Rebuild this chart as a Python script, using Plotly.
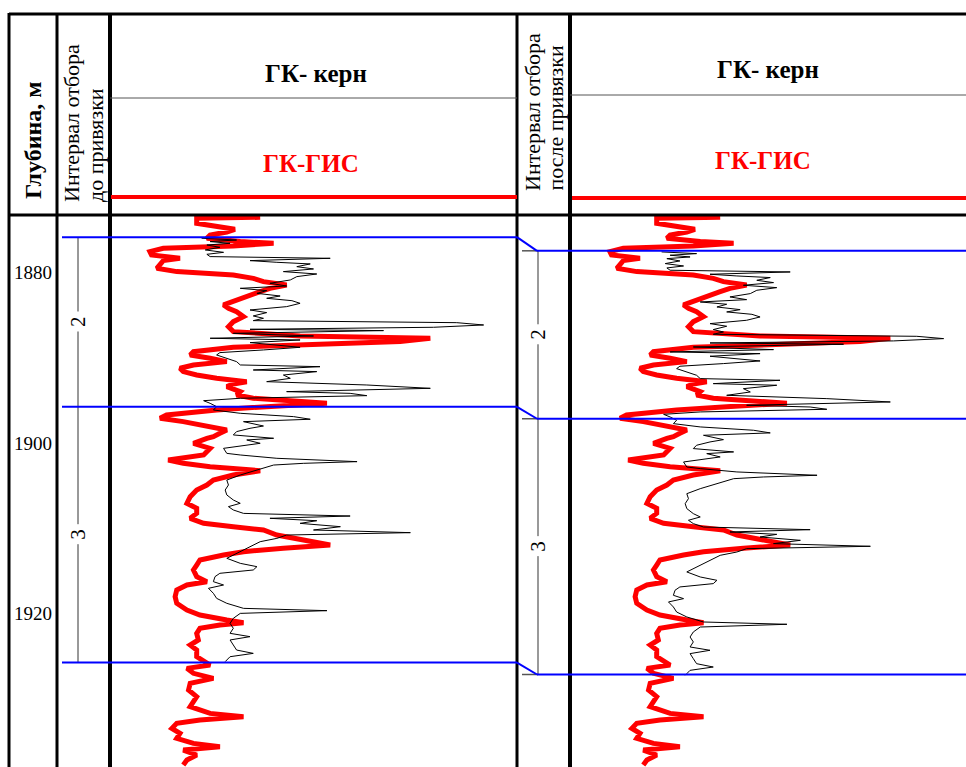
import plotly.graph_objects as go

W, H = 966, 767

# ---------------- data ----------------
depth_ticks = [1880, 1900, 1920]
tick_labels = ["1880", "1900", "1920"]

# ГК-ГИС (well log), depth in m, value in relative units (0..100 over track width)
gis_depth = [
    1873.47, 1873.59, 1874.17, 1874.57, 1874.88, 1875.19, 1875.54, 1875.93, 1876.32, 1876.52,
    1876.83, 1877.11, 1877.50, 1877.89, 1878.28, 1878.55, 1878.94, 1879.45, 1879.84, 1880.23,
    1880.63, 1881.02, 1881.41, 1881.80, 1882.19, 1882.78, 1883.17, 1883.75, 1884.14, 1884.54,
    1885.12, 1885.71, 1886.30, 1886.88, 1887.39, 1887.66, 1888.05, 1888.45, 1888.72, 1889.23,
    1889.62, 1890.01, 1890.40, 1890.79, 1891.18, 1891.57, 1891.97, 1892.36, 1892.75, 1893.02,
    1893.33, 1893.92, 1894.31, 1894.70, 1895.09, 1895.29, 1895.68, 1896.07, 1896.66, 1897.05,
    1897.44, 1898.03, 1898.42, 1898.81, 1899.20, 1899.40, 1899.98, 1900.57, 1901.35, 1901.94,
    1902.33, 1902.72, 1903.19, 1903.70, 1904.29, 1904.87, 1905.46, 1906.24, 1907.02, 1907.61,
    1908.20, 1908.78, 1909.37, 1909.76, 1910.15, 1910.74, 1911.32, 1911.91, 1912.30, 1912.69,
    1913.08, 1913.67, 1914.26, 1914.84, 1915.62, 1916.21, 1916.60, 1917.19, 1917.97, 1918.75,
    1919.53, 1920.12, 1920.71, 1921.02, 1921.29, 1921.68, 1922.27, 1923.05, 1923.64, 1924.23,
    1925.01, 1925.59, 1925.99, 1926.38, 1926.96, 1927.55, 1928.13, 1928.92, 1929.70, 1930.29,
    1930.87, 1931.66, 1932.05, 1932.44, 1932.83, 1933.42, 1934.00, 1934.59, 1935.18, 1935.57,
    1935.96, 1936.54, 1937.13, 1937.72,
]
gis_value = [
    36.9, 21.3, 21.3, 27.0, 30.7, 28.7, 24.6, 23.8, 32.0, 40.2,
    30.3, 13.1, 9.8, 10.2, 17.2, 13.1, 12.3, 11.5, 16.4, 30.3,
    35.2, 37.7, 43.4, 39.3, 36.9, 33.6, 32.0, 27.9, 29.1, 31.1,
    32.8, 30.3, 29.1, 30.3, 46.7, 78.7, 71.3, 48.4, 30.3, 20.5,
    19.7, 24.6, 28.7, 20.5, 17.2, 18.0, 21.3, 26.2, 33.6, 30.3,
    28.7, 32.0, 31.1, 35.2, 50.0, 53.3, 38.5, 26.2, 13.9, 12.3,
    18.0, 24.6, 28.7, 27.0, 25.4, 23.8, 20.5, 24.6, 23.0, 14.3,
    18.0, 24.6, 36.9, 30.3, 25.4, 23.8, 21.3, 19.7, 18.9, 21.3,
    21.3, 19.7, 23.0, 30.3, 37.7, 41.0, 48.4, 54.1, 42.6, 32.8,
    27.9, 22.1, 21.3, 20.5, 21.3, 23.8, 18.9, 16.4, 16.0, 16.4,
    18.9, 22.1, 28.7, 32.8, 27.0, 22.1, 21.3, 21.7, 19.7, 21.3,
    21.3, 23.0, 24.6, 18.9, 20.5, 25.4, 19.7, 19.3, 21.3, 20.5,
    19.7, 24.6, 32.8, 22.1, 16.4, 15.2, 17.2, 16.4, 20.5, 27.0,
    18.0, 21.3, 18.9, 18.0,
]

# ГК-керн (core gamma), depth as recorded before depth matching
core_depth = [
    1875.93, 1876.13, 1876.32, 1876.52, 1876.72, 1876.99, 1877.30, 1877.58, 1877.81, 1878.08,
    1878.28, 1878.55, 1878.75, 1878.94, 1879.26, 1879.53, 1879.84, 1880.12, 1880.43, 1880.82,
    1881.21, 1881.53, 1881.80, 1882.07, 1882.39, 1882.70, 1882.97, 1883.25, 1883.56, 1883.95,
    1884.34, 1884.65, 1885.04, 1885.32, 1885.59, 1885.83, 1886.10, 1886.37, 1886.61, 1886.76,
    1887.08, 1887.39, 1887.66, 1887.86, 1888.17, 1888.45, 1888.72, 1889.03, 1889.34, 1889.62,
    1890.01, 1890.40, 1890.79, 1890.99, 1891.38, 1891.57, 1891.97, 1892.36, 1892.75, 1893.14,
    1893.53, 1893.92, 1894.12, 1894.39, 1894.70, 1894.98, 1895.29, 1895.68, 1896.07, 1896.46,
    1896.85, 1897.16, 1897.44, 1897.95, 1898.22, 1898.61, 1899.00, 1899.39, 1899.59, 1899.98,
    1900.57, 1901.16, 1901.35, 1901.74, 1902.13, 1902.33, 1902.53, 1903.11, 1903.70, 1904.29,
    1904.87, 1905.46, 1906.04, 1906.63, 1907.02, 1907.41, 1907.80, 1908.20, 1908.51, 1908.78,
    1909.06, 1909.37, 1909.76, 1910.15, 1910.46, 1910.74, 1911.13, 1911.52, 1912.11, 1912.69,
    1913.08, 1913.47, 1914.06, 1914.45, 1914.84, 1915.23, 1915.62, 1916.21, 1916.60, 1916.99,
    1917.58, 1918.17, 1918.75, 1919.34, 1919.61, 1919.93, 1920.51, 1921.10, 1921.68, 1922.27,
    1922.66, 1923.05, 1923.64, 1924.23, 1924.62, 1925.01, 1925.40, 1925.59,
]
core_value = [
    22.5, 31.1, 24.6, 29.5, 23.8, 27.0, 23.4, 27.9, 23.8, 24.6,
    54.1, 34.4, 41.0, 49.2, 45.9, 50.0, 42.6, 50.8, 45.9, 44.3,
    39.3, 43.4, 32.0, 38.5, 36.1, 41.8, 38.5, 44.7, 46.7, 43.4,
    34.4, 38.5, 35.2, 37.7, 35.2, 85.2, 91.8, 79.5, 34.4, 67.2,
    30.3, 50.0, 24.6, 46.7, 34.4, 40.2, 46.7, 37.7, 27.0, 26.2,
    28.7, 31.1, 32.0, 51.6, 35.2, 50.8, 42.6, 44.3, 38.5, 63.1,
    78.7, 43.4, 59.0, 63.1, 32.0, 23.0, 24.6, 26.2, 25.4, 32.0,
    45.1, 49.2, 32.8, 37.7, 34.4, 31.1, 30.3, 40.2, 33.6, 36.9,
    27.9, 28.7, 32.0, 41.0, 60.7, 47.5, 40.2, 36.1, 32.0, 28.7,
    29.1, 28.3, 28.7, 30.3, 32.0, 29.1, 30.3, 32.8, 59.0, 39.3,
    50.8, 46.7, 56.6, 50.0, 73.8, 43.4, 41.0, 36.9, 34.4, 32.0,
    30.3, 28.7, 32.0, 36.1, 35.2, 27.0, 25.8, 25.4, 27.9, 24.2,
    25.4, 26.2, 28.7, 32.8, 53.3, 32.0, 30.3, 29.5, 30.3, 29.5,
    34.4, 29.5, 30.3, 31.1, 35.2, 29.5, 28.7, 28.3,
]
core_shift = 1.6  # m, depth correction after matching

interval_before = [1875.8, 1895.7, 1925.7]
interval_after = [1877.4, 1897.1, 1927.1]
interval_labels = ["2", "3"]

depth_range = [1937.95, 1873.20]

# ---------------- helpers for layout positions ----------------
def px(x):
    return x / W

def py(y):
    return 1 - y / H

SERIF = "Liberation Serif"

fig = go.Figure()

fig.add_trace(go.Scatter(x=gis_value, y=gis_depth, mode="lines",
                         line=dict(color="#ff0000", width=5), xaxis="x", yaxis="y",
                         showlegend=False, hoverinfo="skip"))
fig.add_trace(go.Scatter(x=core_value, y=core_depth, mode="lines",
                         line=dict(color="#000000", width=1), xaxis="x", yaxis="y",
                         showlegend=False, hoverinfo="skip"))
fig.add_trace(go.Scatter(x=gis_value, y=gis_depth, mode="lines",
                         line=dict(color="#ff0000", width=5), xaxis="x2", yaxis="y",
                         showlegend=False, hoverinfo="skip"))
fig.add_trace(go.Scatter(x=core_value, y=[d + core_shift for d in core_depth], mode="lines",
                         line=dict(color="#000000", width=1), xaxis="x2", yaxis="y",
                         showlegend=False, hoverinfo="skip"))

shapes = []

def pline(x0, y0, x1, y1, color="black", width=3):
    shapes.append(dict(type="line", xref="paper", yref="paper",
                       x0=px(x0), y0=py(y0), x1=px(x1), y1=py(y1),
                       line=dict(color=color, width=width), layer="above"))

# frame
pline(9, 14, 966, 14, width=3)
pline(9, 215, 966, 215, width=3)
pline(9, 13, 9, 767, width=3)
pline(57, 13, 57, 767, width=3)
pline(110, 13, 110, 767, width=4)
pline(517, 13, 517, 767, width=3)
pline(570, 13, 570, 767, width=4)
# header inner lines
pline(110, 98, 517, 98, color="#555555", width=1)
pline(570, 95, 966, 95, color="#555555", width=1)
pline(111, 197, 517, 197, color="#ff0000", width=4)
pline(572, 198, 966, 198, color="#ff0000", width=4)

# interval bars (depth-referenced)
shapes.append(dict(type="line", xref="paper", yref="y", x0=px(78), x1=px(78),
                   y0=interval_before[0], y1=interval_before[-1],
                   line=dict(color="#333333", width=1)))
shapes.append(dict(type="line", xref="paper", yref="y", x0=px(538), x1=px(538),
                   y0=interval_after[0], y1=interval_after[-1],
                   line=dict(color="#777777", width=1.5)))
for da in interval_after:
    shapes.append(dict(type="line", xref="paper", yref="y", x0=px(522), x1=px(538),
                       y0=da, y1=da, line=dict(color="#555555", width=1.5)))

# blue correlation lines
for db, da in zip(interval_before, interval_after):
    for (x0, y0, x1, y1) in [(62, db, 517, db), (517, db, 537, da), (537, da, 966, da)]:
        shapes.append(dict(type="line", xref="paper", yref="y", x0=px(x0), x1=px(x1),
                           y0=y0, y1=y1, line=dict(color="#0000ff", width=2), layer="above"))

annotations = []

def ann(text, x, y, size, color="black", bold=False, angle=0, xanchor="center",
        yanchor="middle", yref="paper", bg=None, pad=1):
    a = dict(text=("<b>%s</b>" % text) if bold else text, x=x, y=y, xref="paper", yref=yref,
             showarrow=False, textangle=angle, xanchor=xanchor, yanchor=yanchor,
             font=dict(family=SERIF, size=size, color=color))
    if bg:
        a["bgcolor"] = bg
        a["borderpad"] = pad
    annotations.append(a)

# depth tick labels
for d, t in zip(depth_ticks, tick_labels):
    ann(t, px(33), d, 19, yref="y")

# interval labels
for i, lab in enumerate(interval_labels):
    ann(lab, px(78), (interval_before[i] + interval_before[i + 1]) / 2, 21, angle=-90,
        yref="y", bg="white", pad=4)
    ann(lab, px(538), (interval_after[i] + interval_after[i + 1]) / 2, 21, angle=-90,
        yref="y", bg="white", pad=4)

# headers
ann("Глубина, м", px(33), py(201), 24, bold=True, angle=-90, yanchor="bottom")
ann("Интервал отбора", px(71), py(204), 22, angle=-90, yanchor="bottom")
ann("до привязки", px(95), py(204), 22, angle=-90, yanchor="bottom")
ann("Интервал отбора", px(532), py(193), 22, angle=-90, yanchor="bottom")
ann("после привязки", px(555), py(193), 22, angle=-90, yanchor="bottom")
ann("ГК- керн", px(316), py(74), 25, bold=True)
ann("ГК-ГИС", px(311), py(163), 25, bold=True, color="#ff0000")
ann("ГК- керн", px(768), py(70), 25, bold=True)
ann("ГК-ГИС", px(763), py(160), 25, bold=True, color="#ff0000")

fig.update_layout(
    width=W, height=H,
    margin=dict(l=0, r=0, t=0, b=0),
    paper_bgcolor="white", plot_bgcolor="white",
    xaxis=dict(domain=[px(110), px(517)], range=[0, 100], visible=False, anchor="y"),
    xaxis2=dict(domain=[px(570), 1.0], range=[0, 396 / 4.07], visible=False, anchor="y"),
    yaxis=dict(domain=[0, py(215)], range=depth_range, visible=False),
    shapes=shapes,
    annotations=annotations,
    showlegend=False,
)

fig.write_html("out.html")
